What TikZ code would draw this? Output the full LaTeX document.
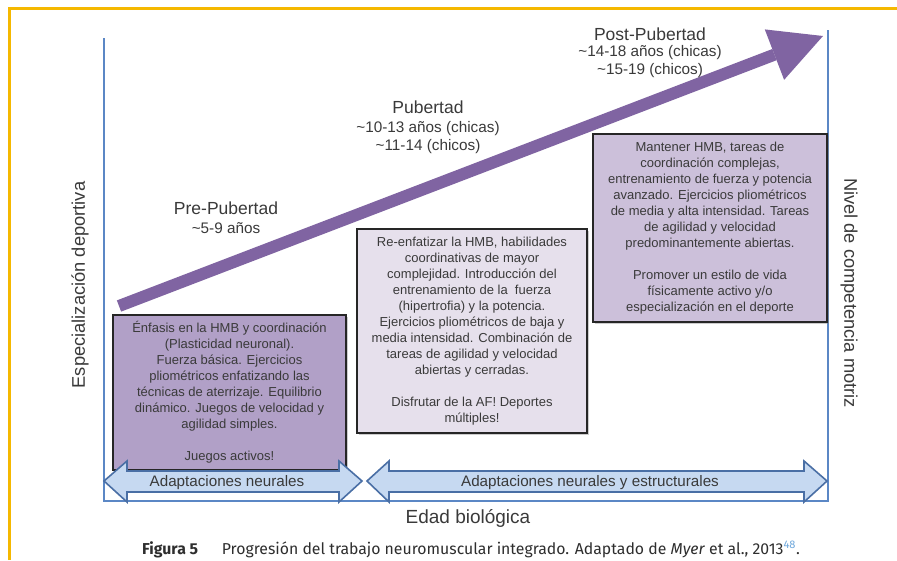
\documentclass[tikz,border=0pt]{standalone}
\usepackage{fontspec}
\setmainfont{Liberation Sans}
\newfontfamily\capfont{Fira Sans}
\usepackage{xcolor}
\usepackage{tikz}
\usetikzlibrary{arrows.meta,positioning,shadows}

\definecolor{framegold}{HTML}{F5B800}
\definecolor{axisblue}{HTML}{5B87C5}
\definecolor{progpurple}{HTML}{8064A2}
\definecolor{prefill}{HTML}{B1A0C7}
\definecolor{pubfill}{HTML}{E6E0EC}
\definecolor{postfill}{HTML}{CCC0DA}
\definecolor{adaptfill}{HTML}{C6D9F1}
\definecolor{adaptline}{HTML}{4A6FA5}
\definecolor{txtgray}{HTML}{3A3A3A}
\definecolor{capgray}{HTML}{2E2E2E}
\definecolor{refblue}{HTML}{6FA8DC}

\begin{document}
\begin{tikzpicture}[x=1pt, y=-1pt,
  stage/.style={font=\fontsize{17.5}{20}\selectfont, text=txtgray, inner sep=0pt},
  age/.style={font=\fontsize{15.3}{18}\selectfont, text=txtgray, inner sep=0pt, align=center},
  box/.style={rectangle, draw=black!85, line width=1.8pt, align=center, text=txtgray,
              font=\fontsize{13}{16}\selectfont, inner sep=0pt,
              drop shadow={shadow xshift=1.5pt, shadow yshift=-1.5pt, opacity=.4}},
  axislbl/.style={font=\fontsize{18.3}{20}\selectfont, text=txtgray, inner sep=0pt},
  axis/.style={draw=axisblue, line width=1.2pt},
  adapt/.style={fill=adaptfill, draw=adaptline, line width=1.6pt},
  adaptlbl/.style={font=\fontsize{15.2}{18}\selectfont, text=txtgray, inner sep=0pt}
]
\useasboundingbox (0,0) rectangle (897,560);
\fill[white] (0,0) rectangle (897,560);
\draw[framegold, line width=2.5pt] (9.5,560) -- (9.5,8.5) -- (897,8.5);

% axes
\draw[axis] (104,38) -- (104,501) -- (828,501) -- (828,30);
\node[axislbl, rotate=90] (ylbl) at (80,285) {Especialización deportiva};
\node[axislbl, rotate=-90] (zlbl) at (849,293) {Nivel de competencia motriz};
\node[axislbl, font=\fontsize{19}{22}\selectfont] (xlbl) at (468,518) {Edad biológica};

% progression arrow
\coordinate (start) at (119,306);
\coordinate (tip) at (823,36);
\draw[progpurple, line width=12pt,
      -{Triangle[length=52pt, width=54pt, line width=0pt]}] (start) -- (tip);

% stages
\node[stage, anchor=base] (pre) at (226,214) {Pre-Pubertad};
\node[age, below=8pt of pre] (preage) {\textasciitilde5-9 años};
\node[stage, anchor=base] (pub) at (428,113) {Pubertad};
\node[age, below=8pt of pub] (pubage)
  {\textasciitilde10-13 años (chicas)\\\textasciitilde11-14 (chicos)};
\node[stage, anchor=base] (post) at (650,40) {Post-Pubertad};
\node[age, below=5pt of post] (postage)
  {\textasciitilde14-18 años (chicas)\\\textasciitilde15-19 (chicos)};

% content boxes
\node[box, fill=prefill, minimum width=233pt, minimum height=155pt] (prebox) at (229.5,392.5)
  {Énfasis en la HMB y coordinación\\(Plasticidad neuronal).\\Fuerza básica. Ejercicios\\
   pliométricos enfatizando las\\técnicas de aterrizaje. Equilibrio\\
   dinámico. Juegos de velocidad y\\agilidad simples.\\[16pt]Juegos activos!};
\node[box, fill=pubfill, minimum width=230pt, minimum height=204pt] (pubbox) at (472,331)
  {Re-enfatizar la HMB, habilidades\\coordinativas de mayor\\complejidad. Introducción del\\
   entrenamiento de la\ \ fuerza\\(hipertrofia) y la potencia.\\Ejercicios pliométricos de baja y\\
   media intensidad. Combinación de\\tareas de agilidad y velocidad\\abiertas y cerradas.\\[16pt]
   Disfrutar de la AF! Deportes\\múltiples!};
\node[box, fill=postfill, minimum width=234pt, minimum height=188pt] (postbox) at (710,228)
  {Mantener HMB, tareas de\\coordinación complejas,\\entrenamiento de fuerza y potencia\\
   avanzado. Ejercicios pliométricos\\de media y alta intensidad. Tareas\\de agilidad y velocidad\\
   predominantemente abiertas.\\[16pt]Promover un estilo de vida\\físicamente activo y/o\\
   especialización en el deporte};

% adaptation arrows
\draw[adapt] (104,481) -- (127,461) -- (127,471) -- (339,471) -- (339,461) -- (362,481)
  -- (339,502) -- (339,492) -- (127,492) -- (127,502) -- cycle;
\node[adaptlbl, anchor=base] (neural) at (227,486) {Adaptaciones neurales};
\draw[adapt] (367,481) -- (389,461) -- (389,471) -- (804,471) -- (804,461) -- (827,481)
  -- (804,502) -- (804,492) -- (389,492) -- (389,502) -- cycle;
\node[adaptlbl, anchor=base] (struct) at (590,486) {Adaptaciones neurales y estructurales};

% caption
\node[anchor=base west, inner sep=0pt, text=capgray, font=\capfont\fontsize{15.8}{18}\selectfont]
  (caption) at (142,554)
  {\textbf{Figura 5}\hspace{1.5em}Progresión del trabajo neuromuscular integrado. Adaptado de
   \textit{Myer} et al., 2013\textsuperscript{\textcolor{refblue}{48}}.};
\end{tikzpicture}
\end{document}
